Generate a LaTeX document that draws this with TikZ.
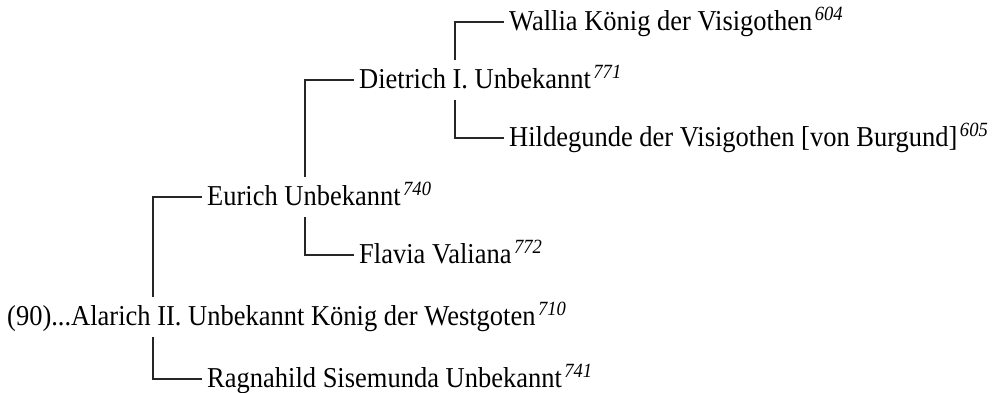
\documentclass[tikz,border=0pt]{standalone}
\usepackage{fontspec}
\setmainfont[FakeStretch=0.92]{Liberation Serif}
\tikzset{
  person/.style={anchor=west, inner xsep=5pt, inner ysep=6pt, text height=22pt, text depth=6pt,
    font=\fontsize{28.8}{32}\selectfont},
  link/.style={line width=1.1pt, draw=black!85}
}
\newcommand{\sref}[1]{\kern2.5pt\textsuperscript{\textit{#1}}}
\begin{document}
\begin{tikzpicture}[x=1pt,y=1pt]
\useasboundingbox (0,0) rectangle (997,-392);
\node[person] (alarich) at (2,-317) {(90)...Alarich II. Unbekannt König der Westgoten\sref{710}};
\node[person] (ragna) at (202,-379) {Ragnahild Sisemunda Unbekannt\sref{741}};
\node[person] (eurich) at (202,-197) {Eurich Unbekannt\sref{740}};
\node[person] (flavia) at (354,-255) {Flavia Valiana\sref{772}};
\node[person] (dietrich) at (354,-80) {Dietrich I. Unbekannt\sref{771}};
\node[person] (wallia) at (504,-22) {Wallia König der Visigothen\sref{604}};
\node[person] (hilde) at (504,-138) {Hildegunde der Visigothen [von Burgund]\sref{605}};
\path (ragna.west) ++(-49,0) coordinate (kr);
\path (eurich.west) ++(-49,0) coordinate (ke);
\path (flavia.west) ++(-49,0) coordinate (kf);
\path (dietrich.west) ++(-49,0) coordinate (kd);
\path (wallia.west) ++(-49,0) coordinate (kw);
\path (hilde.west) ++(-49,0) coordinate (kh);
\draw[link] (kr |- alarich.south) |- (ragna.west);
\draw[link] (ke |- alarich.north) |- (eurich.west);
\draw[link] (kf |- eurich.south) |- (flavia.west);
\draw[link] (kd |- eurich.north) |- (dietrich.west);
\draw[link] (kw |- dietrich.north) |- (wallia.west);
\draw[link] (kh |- dietrich.south) |- (hilde.west);
\end{tikzpicture}
\end{document}
